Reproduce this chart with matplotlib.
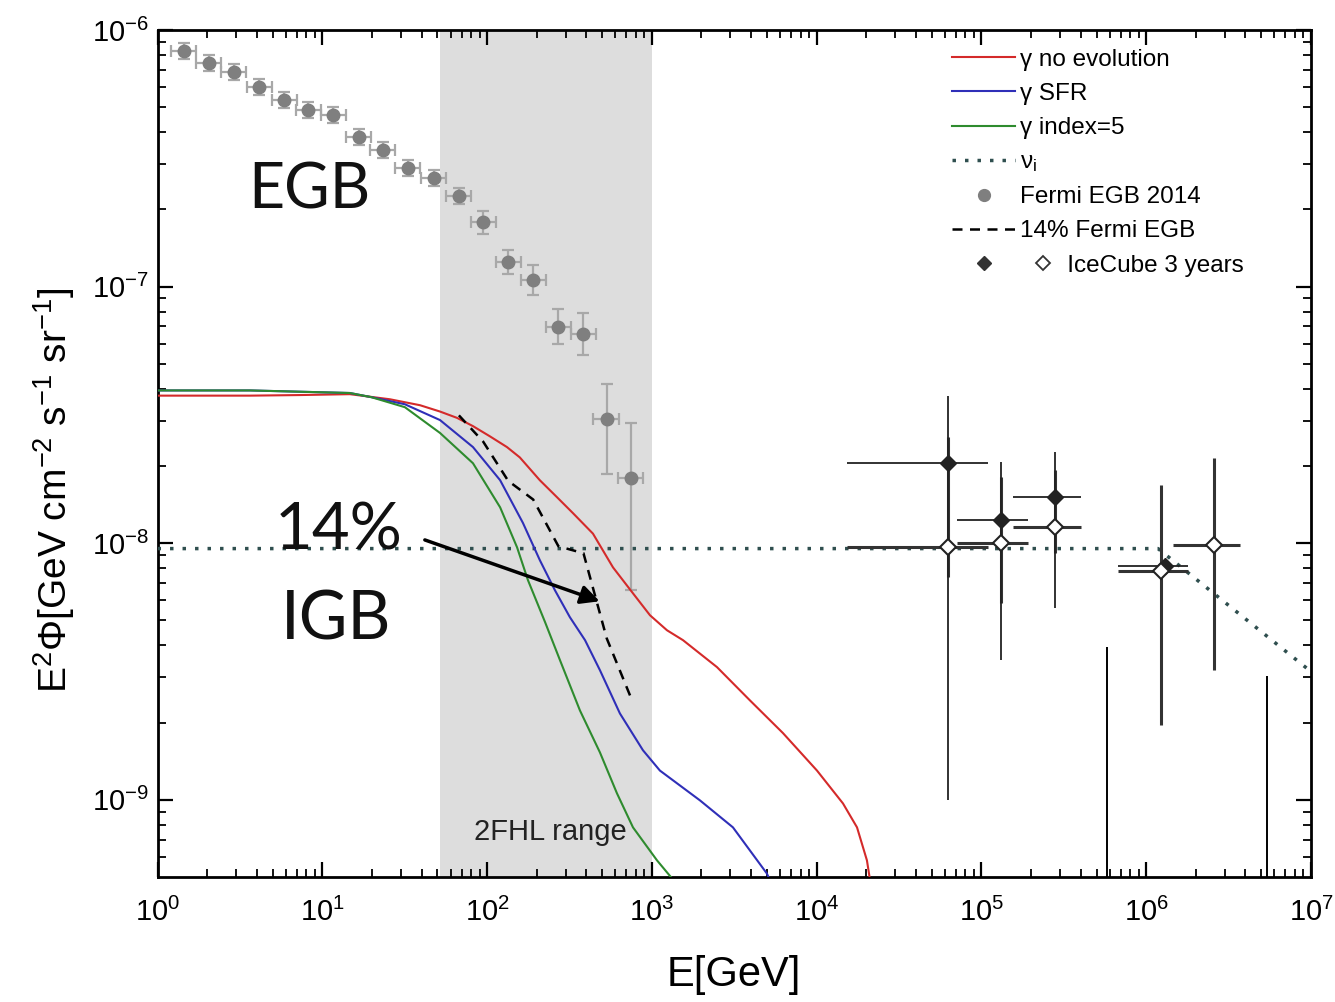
import numpy as np
import matplotlib
matplotlib.use('Agg')
import matplotlib.pyplot as plt
from matplotlib.lines import Line2D
from matplotlib.legend_handler import HandlerBase
from matplotlib.ticker import FixedLocator, NullFormatter, LogFormatterSciNotation

plt.rcParams['font.family'] = ['Liberation Sans', 'DejaVu Sans']
plt.rcParams['mathtext.fontset'] = 'custom'
plt.rcParams['mathtext.rm'] = 'Liberation Sans'
plt.rcParams['mathtext.it'] = 'Liberation Sans:italic'
plt.rcParams['mathtext.bf'] = 'Liberation Sans:bold'

# ---------------- data ----------------
# gamma-ray cascade models
red_E = [1, 3.64, 7.33, 14.7, 25.7, 39.2, 51.8, 65.7, 82.1, 104, 132, 158, 209, 266, 332, 439,
         581, 768, 974, 1235, 1545, 2484, 3939, 6246, 10050, 14450, 17580, 20190, 21050]
red_F = [3.76e-8, 3.76e-8, 3.78e-8, 3.81e-8, 3.64e-8, 3.45e-8, 3.26e-8, 3.08e-8, 2.86e-8, 2.61e-8,
         2.37e-8, 2.16e-8, 1.76e-8, 1.51e-8, 1.31e-8, 1.09e-8, 8.05e-9, 6.38e-9, 5.24e-9, 4.58e-9,
         4.19e-9, 3.29e-9, 2.44e-9, 1.82e-9, 1.30e-9, 9.68e-10, 7.81e-10, 5.81e-10, 4.9e-10]

blue_E = [1, 3.64, 14.7, 19.8, 31.7, 51.8, 82.1, 120, 165, 209, 258, 318, 393, 484, 640, 883,
          1119, 1958, 3105, 4990, 5210]
blue_F = [3.94e-8, 3.94e-8, 3.85e-8, 3.71e-8, 3.48e-8, 3.02e-8, 2.37e-8, 1.76e-8, 1.20e-8, 8.59e-9,
          6.56e-9, 5.15e-9, 4.19e-9, 3.20e-9, 2.17e-9, 1.56e-9, 1.30e-9, 9.95e-10, 7.81e-10,
          5.16e-10, 4.85e-10]

green_E = [1, 3.64, 14.7, 19.8, 31.7, 51.8, 82.1, 120, 152, 177, 225, 277, 366, 484, 614, 768,
           1074, 1325, 1380]
green_F = [3.94e-8, 3.94e-8, 3.85e-8, 3.71e-8, 3.39e-8, 2.69e-8, 2.05e-8, 1.38e-8, 9.64e-9,
           7.18e-9, 4.92e-9, 3.50e-9, 2.23e-9, 1.53e-9, 1.06e-9, 7.81e-10, 5.81e-10, 4.94e-10,
           4.7e-10]

# neutrino flux nu_i
nu_E = [1, 1.18e6, 1e7]
nu_F = [9.53e-9, 9.53e-9, 3.16e-9]

# Fermi EGB 2014
egb_E = [1.442, 2.046, 2.904, 4.130, 5.861, 8.222, 11.67, 16.60, 23.23, 32.96, 47.53, 67.45,
         94.62, 134.3, 190.5, 271.0, 384.6, 532.1, 744.7]
egb_F = [8.28e-7, 7.43e-7, 6.86e-7, 5.99e-7, 5.33e-7, 4.88e-7, 4.67e-7, 3.83e-7, 3.40e-7, 2.90e-7,
         2.65e-7, 2.25e-7, 1.78e-7, 1.25e-7, 1.06e-7, 6.95e-8, 6.53e-8, 3.04e-8, 1.79e-8]
egb_F_lo = [7.70e-7, 6.91e-7, 6.38e-7, 5.57e-7, 4.96e-7, 4.54e-7, 4.34e-7, 3.56e-7, 3.16e-7,
            2.70e-7, 2.46e-7, 2.09e-7, 1.60e-7, 1.12e-7, 0.93e-7, 5.98e-8, 5.41e-8, 1.86e-8, 6.55e-9]
egb_F_hi = [8.90e-7, 7.99e-7, 7.37e-7, 6.44e-7, 5.73e-7, 5.25e-7, 5.02e-7, 4.12e-7, 3.66e-7,
            3.12e-7, 2.85e-7, 2.42e-7, 1.98e-7, 1.39e-7, 1.21e-7, 8.20e-8, 7.88e-8, 4.19e-8, 2.94e-8]
egb_E_lo = [1.21, 1.72, 2.44, 3.47, 4.92, 6.90, 9.80, 13.9, 19.5, 27.7, 39.9, 56.6, 79.4, 113,
            160, 227, 323, 437, 625]
egb_E_hi = [1.72, 2.44, 3.46, 4.92, 6.98, 9.80, 13.9, 19.8, 27.7, 39.2, 56.6, 80.3, 113, 160,
            227, 323, 458, 630, 887]

# 14% of Fermi EGB
igb_E = [67.45, 94.62, 134.3, 190.5, 271.0, 384.6, 532.1, 744.7]
igb_F = [3.15e-8, 2.49e-8, 1.75e-8, 1.48e-8, 9.73e-9, 9.14e-9, 4.26e-9, 2.51e-9]

# IceCube 3 years (filled)
icf_E = [6.27e4, 1.31e5, 2.79e5, 1.30e6]
icf_F = [2.05e-8, 1.23e-8, 1.51e-8, 8.13e-9]
icf_F_lo = [1.00e-9, 3.50e-9, 5.58e-9, 8.13e-9]
icf_F_hi = [3.76e-8, 2.07e-8, 2.26e-8, 8.13e-9]
icf_E_lo = [1.53e4, 7.10e4, 1.55e5, 6.73e5]
icf_E_hi = [1.10e5, 1.91e5, 4.02e5, 1.79e6]

# IceCube 3 years (open)
ico_E = [6.27e4, 1.31e5, 2.79e5, 1.23e6, 2.58e6]
ico_F = [9.64e-9, 1.00e-8, 1.16e-8, 7.78e-9, 9.82e-9]
ico_F_lo = [7.36e-9, 5.83e-9, 9.14e-9, 1.95e-9, 3.20e-9]
ico_F_hi = [2.59e-8, 1.81e-8, 1.93e-8, 1.68e-8, 2.14e-8]
ico_E_lo = [1.53e4, 7.10e4, 1.55e5, 6.73e5, 1.45e6]
ico_E_hi = [1.10e5, 1.91e5, 4.02e5, 1.79e6, 3.70e6]

# IceCube upper limits
ul_E = [5.77e5, 5.40e6]
ul_F = [3.94e-9, 3.05e-9]

# 2FHL energy range
fhl_range = [52, 1000]

# axis ticks
x_major = [1e0, 1e1, 1e2, 1e3, 1e4, 1e5, 1e6, 1e7]
y_major = [1e-9, 1e-8, 1e-7, 1e-6]

labels = ['\u03b3 no evolution', '\u03b3 SFR', '\u03b3 index=5', '\u03bd$_{\\rm i}$',
          'Fermi EGB 2014', '14% Fermi EGB', '       IceCube 3 years']

# ---------------- figure ----------------
fig = plt.figure(figsize=(13.35, 10.02), dpi=100)
ax = fig.add_axes([0.118, 0.1247, 0.864, 0.8453])
ax.set_xscale('log')
ax.set_yscale('log')
xlim = (1, 1e7)
ylim = (5e-10, 1e-6)
ax.set_xlim(*xlim)
ax.set_ylim(*ylim)

ax.axvspan(fhl_range[0], fhl_range[1], color='#dddddd', lw=0, zorder=0)

l_red, = ax.plot(red_E, red_F, color='#d42a2a', lw=1.5, zorder=4)
l_blue, = ax.plot(blue_E, blue_F, color='#2f2fb8', lw=1.5, zorder=4)
l_green, = ax.plot(green_E, green_F, color='#2e8b2e', lw=1.5, zorder=4)
l_nu, = ax.plot(nu_E, nu_F, color='#2f4f4f', lw=2.5, ls=(0, (1, 2.6)), zorder=3)
l_igb, = ax.plot(igb_E, igb_F, color='black', lw=1.8, ls=(0, (4, 3)), zorder=5)

a = np.array
ax.errorbar(a(egb_E), a(egb_F),
            yerr=[a(egb_F) - a(egb_F_lo), a(egb_F_hi) - a(egb_F)],
            xerr=[a(egb_E) - a(egb_E_lo), a(egb_E_hi) - a(egb_E)],
            fmt='o', ms=9, color='#7f7f7f', ecolor='#a8a8a8', elinewidth=1.6,
            capsize=4, capthick=1.6, zorder=3)

ax.errorbar(a(ico_E), a(ico_F),
            yerr=[a(ico_F) - a(ico_F_lo), a(ico_F_hi) - a(ico_F)],
            xerr=[a(ico_E) - a(ico_E_lo), a(ico_E_hi) - a(ico_E)],
            fmt='none', ecolor='#333333', elinewidth=2.2, zorder=5)
ax.errorbar(a(icf_E), a(icf_F),
            yerr=[a(icf_F) - a(icf_F_lo), a(icf_F_hi) - a(icf_F)],
            xerr=[a(icf_E) - a(icf_E_lo), a(icf_E_hi) - a(icf_E)],
            fmt='D', ms=8, mfc='#222222', mec='#222222', ecolor='#222222',
            elinewidth=1.3, zorder=6)
ax.plot(ico_E, ico_F, ls='none', marker='D', ms=8, mfc='white', mec='#222222', mew=1.5, zorder=7)
ax.vlines(ul_E, 1e-10, ul_F, color='black', lw=1.4, zorder=5)

# annotations
ax.text(8.3, 2.38e-7, 'EGB', fontsize=45, family=['Lato', 'DejaVu Sans'],
        ha='center', va='center', color='#111111')
ax.text(12.5, 1.12e-8, '14%', fontsize=47, family=['Lato', 'DejaVu Sans'],
        ha='center', va='center', color='#111111')
ax.text(12.2, 5.0e-9, 'IGB', fontsize=48, family=['Lato', 'DejaVu Sans'],
        ha='center', va='center', color='#111111')
ax.annotate('', xy=(482, 5.94e-9), xytext=(41.9, 1.03e-8),
            arrowprops=dict(arrowstyle='-|>', lw=2.5, color='black', mutation_scale=28,
                            shrinkA=0, shrinkB=0), zorder=8)
ax.text(241, 7.46e-10, '2FHL range', fontsize=21, ha='center', va='center', color='#222222')

# axes styling
for s in ax.spines.values():
    s.set_linewidth(2.0)


def minor_ticks(lo, hi):
    out = []
    for d in range(int(np.floor(np.log10(lo))), int(np.ceil(np.log10(hi))) + 1):
        for m in range(2, 10):
            v = m * 10.0 ** d
            if lo < v < hi:
                out.append(v)
    return out


ax.xaxis.set_major_locator(FixedLocator(x_major))
ax.yaxis.set_major_locator(FixedLocator(y_major))
ax.xaxis.set_minor_locator(FixedLocator(minor_ticks(*xlim)))
ax.yaxis.set_minor_locator(FixedLocator(minor_ticks(*ylim)))
ax.xaxis.set_major_formatter(LogFormatterSciNotation())
ax.yaxis.set_major_formatter(LogFormatterSciNotation())
ax.xaxis.set_minor_formatter(NullFormatter())
ax.yaxis.set_minor_formatter(NullFormatter())
ax.tick_params(which='both', direction='in', top=True, right=True)
ax.tick_params(which='major', length=11, width=1.6, labelsize=21)
ax.tick_params(which='minor', length=5.5, width=1.3)
ax.tick_params(axis='x', which='major', pad=15)
ax.tick_params(axis='y', which='major', pad=6)

ax.set_xlabel('E[GeV]', fontsize=30, labelpad=20)
ax.set_ylabel(r'E$^2\Phi$[GeV cm$^{-2}$ s$^{-1}$ sr$^{-1}$]', fontsize=28)
ax.yaxis.set_label_coords(-0.07, 0.457)


class IceCubeHandler(HandlerBase):
    def create_artists(self, legend, orig_handle, xdescent, ydescent, width, height,
                       fontsize, trans):
        y = height / 2.0 - ydescent
        f = Line2D([width / 2.0 - xdescent], [y], ls='none', marker='D', ms=7,
                   mfc='#333333', mec='#333333', transform=trans)
        o = Line2D([width - xdescent + 1.12 * fontsize], [y], ls='none', marker='D', ms=7,
                   mfc='white', mec='#333333', mew=1.3, transform=trans)
        return [f, o]


h_egb = Line2D([], [], ls='none', marker='o', ms=8.5, color='#7f7f7f')
h_ice = Line2D([], [], ls='none')
handles = [l_red, l_blue, l_green, l_nu, h_egb, l_igb, h_ice]
ax.legend(handles, labels, loc='upper left', bbox_to_anchor=(0.689, 0.978),
          frameon=False, fontsize=17.5, handlelength=2.6, handletextpad=0.2,
          labelspacing=0.5, borderpad=0, borderaxespad=0,
          handler_map={h_ice: IceCubeHandler()})

fig.savefig('out.png', dpi=100)
